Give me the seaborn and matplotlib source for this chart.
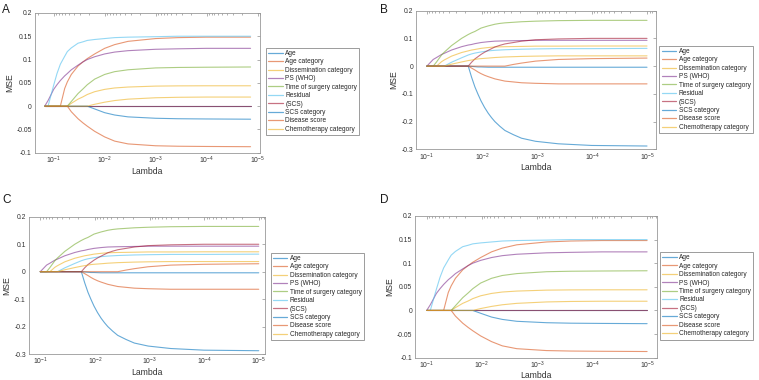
"""Lasso coefficient paths (MSE vs Lambda), four panels A-D."""
import pandas as pd
import matplotlib
matplotlib.use("Agg")
import matplotlib.pyplot as plt
from matplotlib.ticker import FixedLocator, FuncFormatter, LogLocator
import seaborn as sns

LABELS = ["Age", "Age category", "Dissemination category", "PS (WHO)",
          "Time of surgery category", "Residual", "(SCS)", "SCS category",
          "Disease score", "Chemotherapy category"]
# MATLAB default line colours, cycling after seven
PALETTE = ["#0072BD", "#D95319", "#EDB120", "#7E2F8E", "#77AC30",
           "#4DBEEE", "#A2142F", "#0072BD", "#D95319", "#EDB120"]

# ---- panels A and D (same paths, different lambda grids) ----
lam_A = [0.150, 0.129, 0.1, 0.0861, 0.074, 0.0608, 0.054, 0.0451, 0.0333,
         0.0266, 0.0219, 0.0157, 0.01, 0.00637, 0.00348, 0.001, 0.000365,
         0.0001, 1.37e-5]
lam_D = [0.1, 0.0861, 0.0667, 0.0574, 0.0493, 0.0406, 0.036, 0.0301, 0.0222,
         0.0177, 0.0146, 0.0105, 0.00667, 0.00425, 0.00232, 0.000667,
         0.000243, 6.67e-5, 1.0e-5]

age_AD = [0, 0, 0, 0, 0, 0, 0, 0, 0, 0, 0, 0, 0, 0, 0, 0, 0, 0, 0]
agecat_AD = [0, 0, 0, 0, 0, 0.038, 0.052, 0.068, 0.086, 0.095, 0.102, 0.112,
             0.124, 0.132, 0.139, 0.145, 0.147, 0.148, 0.148]
dissem_AD = [0, 0, 0, 0, 0, 0, 0, 0.006, 0.015, 0.02, 0.025, 0.031, 0.036,
             0.039, 0.041, 0.043, 0.0435, 0.0437, 0.0437]
ps_AD = [0, 0.012, 0.036, 0.046, 0.055, 0.065, 0.07, 0.078, 0.088, 0.095,
         0.1, 0.106, 0.112, 0.116, 0.119, 0.122, 0.123, 0.124, 0.124]
surgery_AD = [0, 0, 0, 0, 0, 0, 0, 0.01, 0.027, 0.037, 0.046, 0.058, 0.068,
              0.074, 0.078, 0.082, 0.083, 0.0835, 0.084]
resid_AD = [0, 0, 0.045, 0.07, 0.09, 0.107, 0.117, 0.125, 0.135, 0.138,
            0.141, 0.143, 0.145, 0.147, 0.148, 0.149, 0.15, 0.15, 0.15]
scs_AD = [0, 0, 0, 0, 0, 0, 0, 0, 0, 0, 0, 0, 0, 0, 0, 0, 0, 0, 0]
scscat_AD = [0, 0, 0, 0, 0, 0, 0, 0, 0, 0, 0, -0.006, -0.014, -0.019,
             -0.023, -0.026, -0.027, -0.0275, -0.028]
disease_AD = [0, 0, 0, 0, 0, 0, 0, -0.012, -0.027, -0.036, -0.043, -0.054,
              -0.066, -0.075, -0.081, -0.085, -0.086, -0.0865, -0.087]
chemo_AD = [0, 0, 0, 0, 0, 0, 0, 0, 0, 0, 0, 0.004, 0.0085, 0.012, 0.015,
            0.018, 0.019, 0.0195, 0.0195]

# ---- panels B and C (shared lambda grid and paths) ----
lam_BC = [0.1, 0.0767, 0.0667, 0.0541, 0.0484, 0.0356, 0.0234, 0.0177,
          0.0154, 0.0134, 0.0118, 0.0104, 0.00895, 0.00767, 0.00667,
          0.00581, 0.00471, 0.00382, 0.00269, 0.0019, 0.00106, 0.000409,
          0.000101, 1.0e-5]

age_BC = [0, 0, 0, 0, 0, 0, 0, 0, -0.04, -0.075, -0.101, -0.125, -0.149,
          -0.17, -0.186, -0.2, -0.217, -0.232, -0.247, -0.26, -0.271, -0.28,
          -0.286, -0.288]
agecat_BC = [0, 0, 0, 0, 0, 0, 0, 0, -0.007, -0.014, -0.021, -0.027, -0.033,
             -0.038, -0.042, -0.046, -0.05, -0.054, -0.057, -0.06, -0.062,
             -0.064, -0.064, -0.064]
dissem_BC = [0, 0, 0, 0.016, 0.022, 0.036, 0.049, 0.055, 0.058, 0.06, 0.062,
             0.064, 0.0655, 0.067, 0.068, 0.069, 0.0695, 0.07, 0.0705, 0.071,
             0.072, 0.072, 0.0725, 0.0725]
ps_BC = [0, 0.024, 0.031, 0.042, 0.046, 0.058, 0.07, 0.076, 0.078, 0.081,
         0.083, 0.085, 0.0865, 0.088, 0.089, 0.09, 0.0905, 0.091, 0.0915,
         0.092, 0.093, 0.093, 0.093, 0.093]
surgery_BC = [0, 0, 0.015, 0.04, 0.05, 0.074, 0.1, 0.114, 0.12, 0.125, 0.131,
              0.137, 0.141, 0.145, 0.148, 0.151, 0.154, 0.156, 0.158, 0.16,
              0.162, 0.164, 0.165, 0.165]
resid_BC = [0, 0, 0, 0, 0, 0.014, 0.03, 0.04, 0.044, 0.047, 0.049, 0.051,
            0.053, 0.055, 0.056, 0.057, 0.058, 0.059, 0.06, 0.061, 0.062,
            0.063, 0.063, 0.064]
scs_BC = [0, 0, 0, 0, 0, 0, 0, 0, 0.014, 0.026, 0.034, 0.042, 0.05, 0.057,
          0.063, 0.069, 0.075, 0.08, 0.085, 0.09, 0.095, 0.098, 0.1, 0.1]
scscat_BC = [0, 0, 0, 0, 0, 0, 0, 0, -0.001, -0.002, -0.003, -0.003, -0.0035,
             -0.004, -0.004, -0.004, -0.004, -0.004, -0.004, -0.004, -0.004,
             -0.004, -0.004, -0.004]
disease_BC = [0, 0, 0, 0, 0, 0, 0, 0, 0, 0, 0, 0, 0, 0, 0, 0, 0, 0, 0.006,
              0.011, 0.018, 0.024, 0.027, 0.029]
chemo_BC = [0, 0, 0, 0, 0, 0.007, 0.015, 0.02, 0.022, 0.024, 0.026, 0.027,
            0.028, 0.029, 0.03, 0.031, 0.032, 0.033, 0.034, 0.035, 0.036,
            0.037, 0.037, 0.037]

paths_AD = [age_AD, agecat_AD, dissem_AD, ps_AD, surgery_AD, resid_AD,
            scs_AD, scscat_AD, disease_AD, chemo_AD]
paths_BC = [age_BC, agecat_BC, dissem_BC, ps_BC, surgery_BC, resid_BC,
            scs_BC, scscat_BC, disease_BC, chemo_BC]

YT_AD = [-0.1, -0.05, 0, 0.05, 0.1, 0.15, 0.2]
YT_BC = [-0.3, -0.2, -0.1, 0, 0.1, 0.2]


def long_frame(lam, paths):
    parts = [pd.DataFrame({"Lambda": lam, "MSE": vals, "term": name})
             for name, vals in zip(LABELS, paths)]
    return pd.concat(parts, ignore_index=True)


sns.set_theme(style="white")
plt.rcParams["font.family"] = ["Liberation Sans", "DejaVu Sans"]
plt.rcParams["axes.unicode_minus"] = False

fig = plt.figure(figsize=(7.59, 3.80), dpi=100)

# name, axes rect (fig fraction), lambda, paths, xlim, yticks, legend corner, letter pos
panels = [
    ("A", [0.0457, 0.598, 0.297, 0.368], lam_A, paths_AD, (0.236, 8.9e-6),
     YT_AD, (0.3505, 0.8745), (0.003, 0.99)),
    ("B", [0.548, 0.607, 0.3166, 0.365], lam_BC, paths_BC, (0.158, 6.8e-6),
     YT_BC, (0.8686, 0.8797), (0.501, 0.99)),
    ("C", [0.0378, 0.0684, 0.3117, 0.361], lam_BC, paths_BC, (0.163, 7.6e-6),
     YT_BC, (0.3567, 0.335), (0.003, 0.49)),
    ("D", [0.5468, 0.0588, 0.3184, 0.3728], lam_D, paths_AD, (0.163, 6.7e-6),
     YT_AD, (0.8696, 0.3368), (0.501, 0.49)),
]

for letter, rect, lam, paths, xlim, yt, leg_xy, let_xy in panels:
    ax = fig.add_axes(rect)
    df = long_frame(lam, paths)
    sns.lineplot(data=df, x="Lambda", y="MSE", hue="term", hue_order=LABELS,
                 palette=PALETTE, estimator=None, linewidth=0.8, alpha=0.6,
                 ax=ax)
    ax.set_xscale("log")
    ax.set_xlim(*xlim)
    ax.set_ylim(yt[0], yt[-1])
    ax.yaxis.set_major_locator(FixedLocator(yt))
    ax.yaxis.set_major_formatter(FuncFormatter(lambda v, p: f"{v:g}"))
    ax.xaxis.set_major_locator(LogLocator(base=10, numticks=10))
    ax.xaxis.set_minor_locator(LogLocator(base=10, subs=range(2, 10), numticks=20))
    ax.tick_params(which="both", direction="in", top=True, right=True,
                   width=0.4, color="0.45", labelsize=4.9, labelcolor="0.2",
                   pad=2)
    ax.tick_params(axis="x", which="both", pad=1.5)
    ax.tick_params(which="major", length=2.5)
    ax.tick_params(which="minor", length=1.4)
    for sp in ax.spines.values():
        sp.set_color("0.6")
        sp.set_linewidth(0.6)
    ax.set_xlabel("Lambda", fontsize=6.2, color="0.2", labelpad=0.3)
    ax.set_ylabel("MSE", fontsize=6.2, color="0.2", labelpad=2)

    handles, labels = ax.get_legend_handles_labels()
    for h in handles:
        h.set_linewidth(0.9)
    ax.legend(handles, labels, loc="upper left", bbox_to_anchor=leg_xy,
              bbox_transform=fig.transFigure, borderaxespad=0, fontsize=4.7,
              frameon=True, fancybox=False, framealpha=1, edgecolor="0.55",
              handlelength=2.2, handletextpad=0.4, labelspacing=0.22,
              borderpad=0.35)
    ax.get_legend().get_frame().set_linewidth(0.6)

    fig.text(let_xy[0], let_xy[1], letter, fontsize=8.5, color="0.1",
             ha="left", va="top")

fig.savefig("out.png", dpi=100)
